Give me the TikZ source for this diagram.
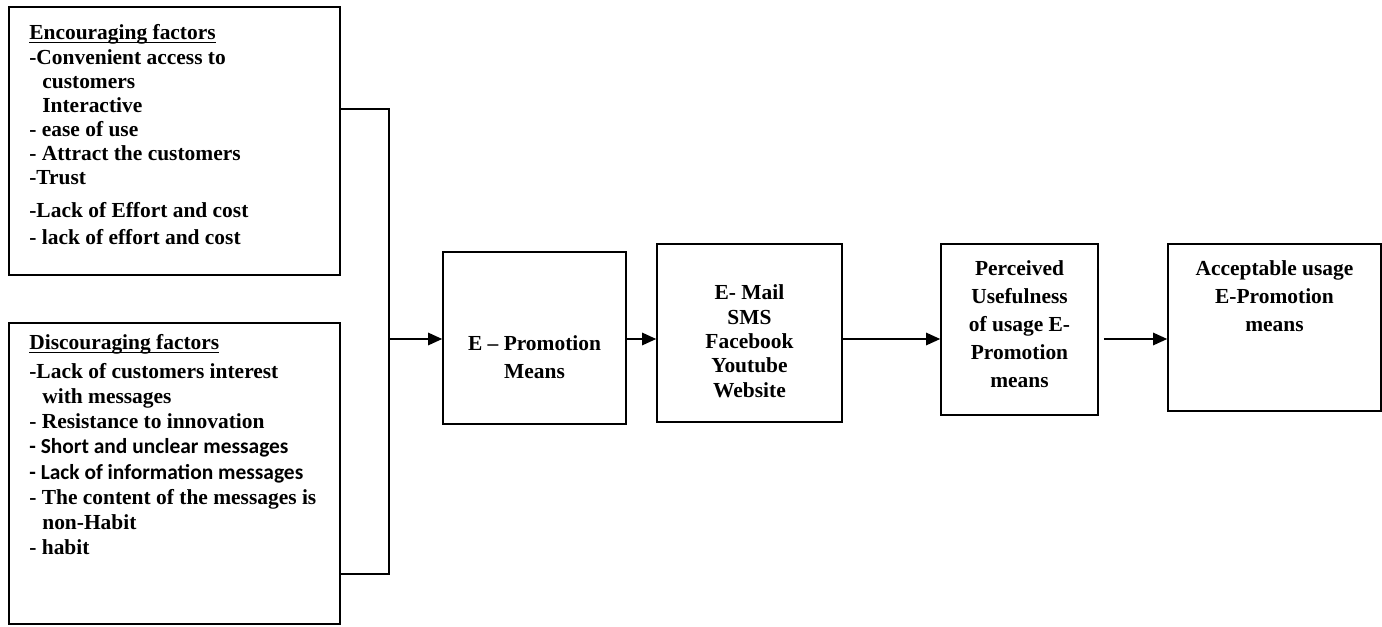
\documentclass[tikz,border=0pt]{standalone}
\usepackage{fontspec}
\setmainfont{Liberation Serif}
\newfontfamily\calibrifont{Carlito}
\usetikzlibrary{arrows.meta,positioning,calc}

\newcommand{\ind}{\hspace*{0.26cm}}
\newcommand{\heading}[1]{\underline{\raisebox{0pt}[\height][0pt]{#1}}}

\begin{document}
\begin{tikzpicture}[
		x=0.02cm,y=0.02cm,
		>={Triangle[length=8pt,width=7pt]},
		every node/.style={font=\fontsize{12.2}{13.7}\selectfont\bfseries},
		frame/.style={draw,line width=0.9pt,inner sep=0pt},
		txt/.style={inner sep=0pt,align=left,anchor=north west},
		ctxt/.style={inner sep=0pt,align=center,anchor=north},
		link/.style={line width=1.1pt}
		]
		\useasboundingbox (0,0) rectangle (1382,626);
		
		% =========================
		% Left: factor boxes
		% =========================
		\node[frame,minimum width=6.62cm,minimum height=5.36cm] (enc) at (174.5,485) {};
		\node[frame,minimum width=6.62cm,minimum height=6.02cm] (dis) at (174.5,152.5) {};
		
		\node[txt] (enctxt) at (29,601.5) {
			\heading{Encouraging factors}\\
			-Convenient access to\\
			\ind customers\\
			\ind Interactive\\
			- ease of use\\
			- Attract the customers\\
			-Trust\\[5pt]
			-Lack of Effort and cost\\[1.7pt]
			- lack of effort and cost
		};
		
		\node[txt,font=\fontsize{12.2}{14.3}\selectfont\bfseries] (distxt) at (29,291.5) {
			\heading{Discouraging factors}\\[2pt]
			-Lack of customers interest\\
			\ind with messages\\
			- Resistance to innovation\\
			{\calibrifont - Short and unclear messages}\\
			{\calibrifont - Lack of information messages}\\
			- The content of the messages is\\
			\ind non-Habit\\
			- habit
		};
		
		% joining bracket
		\coordinate (jtop) at (389,517);
		\coordinate (jbot) at (389,52);
		\coordinate (jmid) at (389,287);
		\draw[link] (enc.east |- jtop) -- (jtop) -- (jbot) -- (dis.east |- jbot);
		
		% =========================
		% Right: chain of boxes
		% =========================
		\node[frame,minimum width=3.66cm,minimum height=3.44cm] (epm) at (534.5,288) {};
		\node[frame,minimum width=3.70cm,minimum height=3.56cm] (med) at (749.5,293) {};
		\node[frame,minimum width=3.14cm,minimum height=3.42cm] (per) at (1019.5,296.5) {};
		\node[frame,minimum width=4.26cm,minimum height=3.34cm] (acc) at (1274.5,298.5) {};
		
		\node[ctxt,font=\fontsize{12.2}{15.9}\selectfont\bfseries] (epmtxt) at (534.5,290.5) {E – Promotion\\Means};
		\node[ctxt,font=\fontsize{12.2}{13.9}\selectfont\bfseries] (medtxt) at (749.5,341.5) {E- Mail\\SMS\\Facebook\\Youtube\\Website};
		\node[ctxt,font=\fontsize{12.2}{15.9}\selectfont\bfseries] (pertxt) at (1019.5,365.5) {Perceived\\Usefulness\\of usage E-\\Promotion\\means};
		\node[ctxt,font=\fontsize{12.2}{15.9}\selectfont\bfseries] (acctxt) at (1274.5,365.5) {Acceptable usage\\E-Promotion\\means};
		
		% arrows
		\draw[link,->] (jmid) -- (jmid -| epm.west);
		\draw[link,->] (epm.east |- jmid) -- (jmid -| med.west);
		\draw[link,->] (med.east |- jmid) -- (jmid -| per.west);
		\draw[link,->,shorten <=0.1cm] (per.east |- jmid) -- (jmid -| acc.west);
		
	\end{tikzpicture}
\end{document}
